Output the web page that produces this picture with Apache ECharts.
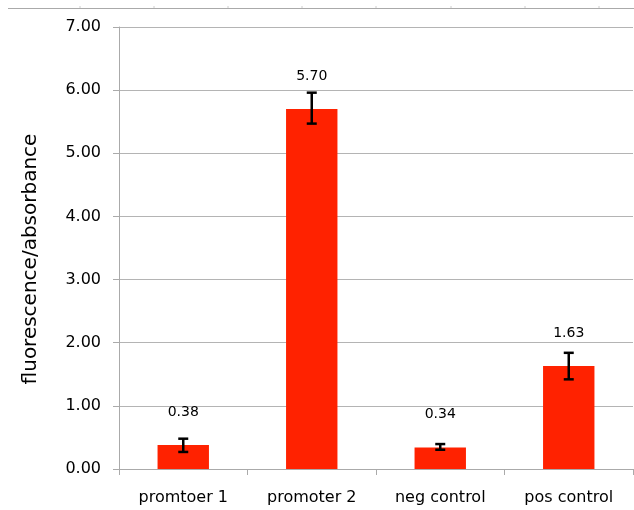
<!DOCTYPE html>
<html><head><meta charset="utf-8">
<script src="https://cdn.jsdelivr.net/npm/echarts@6/dist/echarts.min.js"></script>
<style>html,body{margin:0;padding:0;background:#fff}#c{width:634px;height:510px}</style>
</head><body><div id="c"></div>
<script>
const categories = ['promtoer 1', 'promoter 2', 'neg control', 'pos control'];
const values = [0.38, 5.70, 0.34, 1.63];
const errLow = [0.27, 5.47, 0.305, 1.42];
const errHigh = [0.48, 5.96, 0.395, 1.84];
const yTicks = [0, 1, 2, 3, 4, 5, 6, 7];

const FONT = 'DejaVu Sans';
const chart = echarts.init(document.getElementById('c'), null, {renderer: 'canvas'});
const topTicks = [80, 154, 228, 302, 376, 451, 525, 599];
const graphics = [{type: 'line', shape: {x1: 8, y1: 8.5, x2: 634, y2: 8.5}, style: {stroke: '#aaaaaa', lineWidth: 1}}];
topTicks.forEach(x => graphics.push({type: 'line', shape: {x1: x, y1: 6, x2: x, y2: 8}, style: {stroke: '#cccccc', lineWidth: 1}}));

chart.setOption({
  animation: false,
  graphic: graphics,
  grid: {left: 119, right: 1, top: 27, bottom: 41, containLabel: false},
  xAxis: {
    type: 'category', data: categories,
    axisLine: {lineStyle: {color: '#aaaaaa', width: 1}},
    axisTick: {show: true, length: 6, lineStyle: {color: '#aaaaaa'}},
    axisLabel: {color: '#000', fontFamily: FONT, fontSize: 16, margin: 21}
  },
  yAxis: {
    type: 'value', min: yTicks[0], max: yTicks[yTicks.length - 1], interval: 1,
    name: 'fluorescence/absorbance', nameLocation: 'middle', nameGap: 78,
    nameTextStyle: {color: '#000', fontFamily: FONT, fontSize: 20, padding: [0, 22, 0, 0]},
    axisLine: {show: true, lineStyle: {color: '#aaaaaa', width: 1}},
    axisTick: {show: true, length: 6, lineStyle: {color: '#aaaaaa'}},
    splitLine: {lineStyle: {color: '#b4b4b4', width: 1}},
    axisLabel: {color: '#000', fontFamily: FONT, fontSize: 16, margin: 18,
      formatter: v => v.toFixed(2)}
  },
  series: [
    {
      type: 'bar', data: values, barWidth: '40%',
      itemStyle: {color: '#ff2200'},
      label: {show: true, position: 'top', distance: 26, color: '#000', fontFamily: FONT, fontSize: 14,
        formatter: p => p.value.toFixed(2)}
    },
    {
      type: 'custom', data: categories.map((c, i) => [i, errLow[i], errHigh[i]]),
      z: 5,
      renderItem: (params, api) => {
        const x = api.coord([api.value(0), 0])[0];
        const lo = api.coord([api.value(0), api.value(1)])[1];
        const hi = api.coord([api.value(0), api.value(2)])[1];
        const w = 5;
        const st = {stroke: '#000', lineWidth: 2.5};
        return {type: 'group', children: [
          {type: 'line', shape: {x1: x, y1: lo, x2: x, y2: hi}, style: st},
          {type: 'line', shape: {x1: x - w, y1: hi, x2: x + w, y2: hi}, style: st},
          {type: 'line', shape: {x1: x - w, y1: lo, x2: x + w, y2: lo}, style: st}
        ]};
      }
    }
  ]
});
</script></body></html>
